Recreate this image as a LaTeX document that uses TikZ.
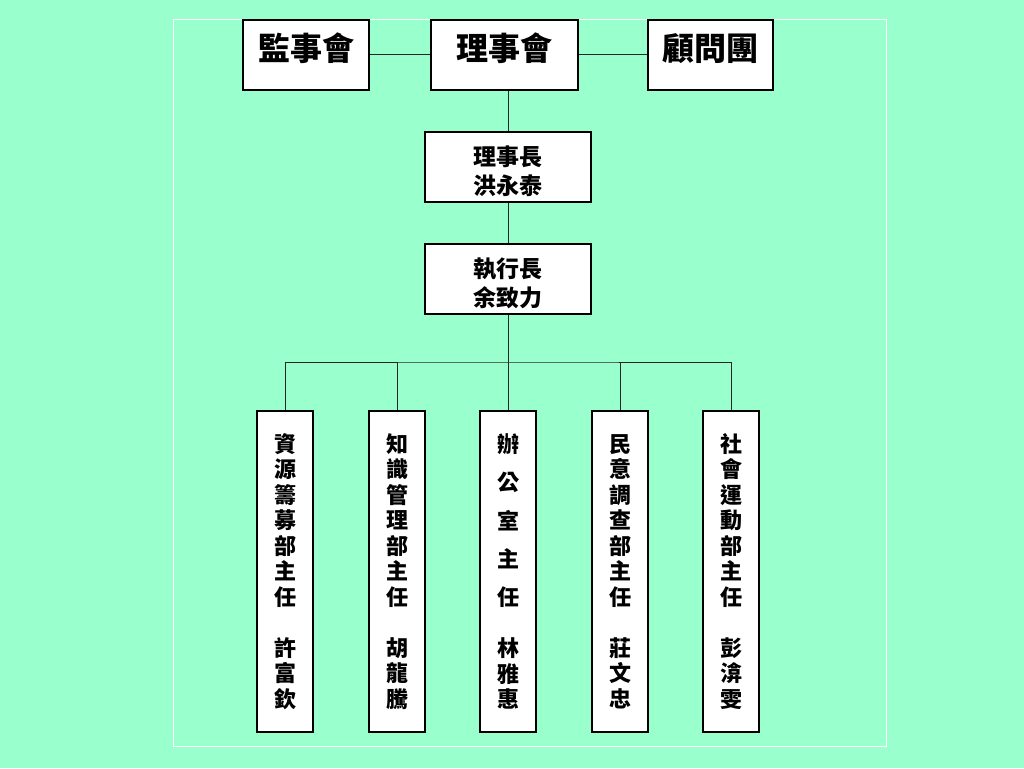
\documentclass[tikz,border=0pt]{standalone}
\usepackage{fontspec}
\newfontfamily\cjk{Noto Sans CJK TC}
\usetikzlibrary{positioning}
\definecolor{bgmint}{HTML}{99FFCC}
\tikzset{
  topbox/.style={draw=black, fill=white, line width=1.2pt, minimum height=70pt, inner sep=0pt,
    font=\cjk\bfseries\fontsize{32pt}{36pt}\selectfont, text height=30pt, text depth=20pt},
  chiefbox/.style={draw=black, fill=white, line width=1.2pt, minimum width=166pt, minimum height=70pt,
    inner sep=0pt, align=center, font=\cjk\bfseries\fontsize{23pt}{29pt}\selectfont},
  deptbox/.style={draw=black, fill=white, line width=1.2pt, minimum width=56pt, minimum height=321pt,
    inner sep=0pt, align=center, font=\cjk\bfseries\fontsize{22pt}{25.5pt}\selectfont},
  wire/.style={line width=1pt, draw=black!85},
}
\begin{document}
\begin{tikzpicture}[x=1pt,y=-1pt]
\fill[bgmint] (0,0) rectangle (1024,768);
\useasboundingbox (0,0) rectangle (1024,768);
\draw[white,line width=1pt] (173,20) rectangle (886,746);
% top row
\node[topbox, minimum width=126pt] (super) at (306,55) {監事會};
\node[topbox, minimum width=147pt] (board) at (504.5,55) {理事會};
\node[topbox, minimum width=125pt] (advise) at (710.5,55) {顧問團};
% chiefs
\node[chiefbox] (chair) at (508,167) {\rule{0pt}{28pt}理事長\\洪永泰};
\node[chiefbox] (ceo) at (508,279) {\rule{0pt}{28pt}執行長\\余致力};
% departments
\node[deptbox] (fund) at (285,571.5) {資\\源\\籌\\募\\部\\主\\任\\[25.5pt]許\\富\\欽};
\node[deptbox] (know) at (397,571.5) {知\\識\\管\\理\\部\\主\\任\\[25.5pt]胡\\龍\\騰};
\node[deptbox] (office) at (508,571.5) {辦\\[12.75pt]公\\[12.75pt]室\\[12.75pt]主\\[12.75pt]任\\[25.5pt]林\\雅\\惠};
\node[deptbox] (poll) at (620,571.5) {民\\意\\調\\查\\部\\主\\任\\[25.5pt]莊\\文\\忠};
\node[deptbox] (social) at (731,571.5) {社\\會\\運\\動\\部\\主\\任\\[25.5pt]彭\\渰\\雯};
\coordinate (bus) at (508,362);
% connectors
\draw[wire] (super) -- (board);
\draw[wire] (board) -- (advise);
\draw[wire] (chair.north) -- (chair.north |- board.south);
\draw[wire] (chair) -- (ceo);
\draw[wire] (ceo.south) -- (bus);
\draw[wire] (fund.north) |- (bus) -| (social.north);
\foreach \d in {know,office,poll}
  \draw[wire] (\d.north) -- (\d.north |- bus);
\end{tikzpicture}
\end{document}
